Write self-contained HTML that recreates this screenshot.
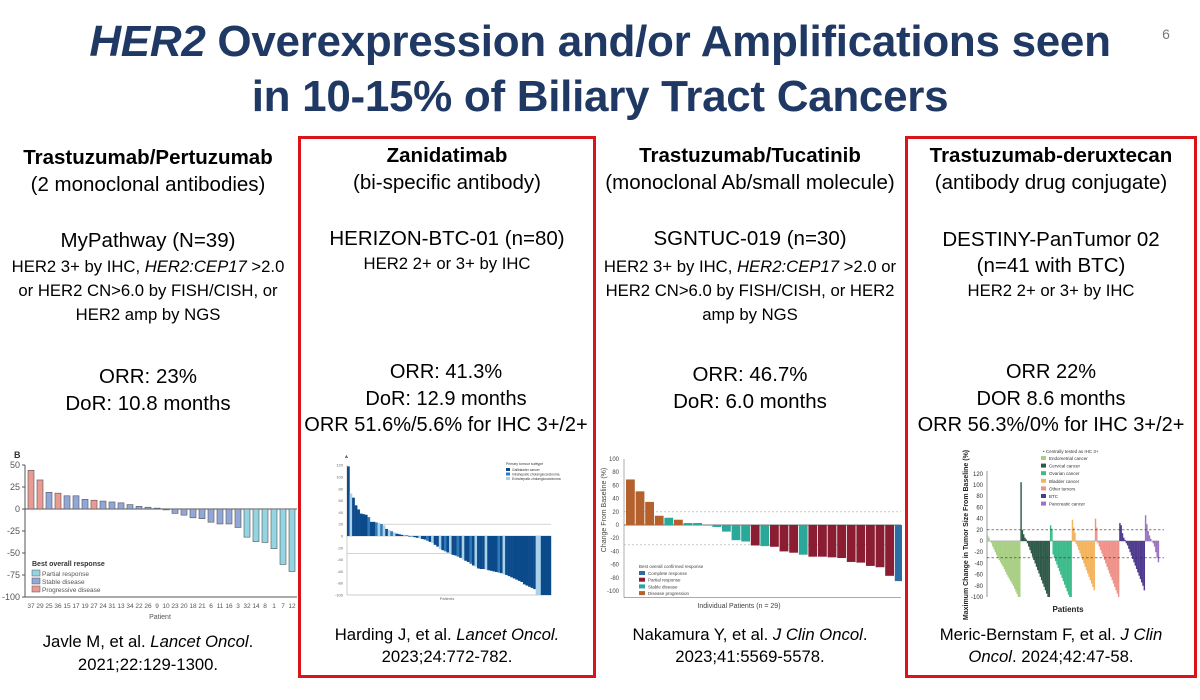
<!DOCTYPE html>
<html><head><meta charset="utf-8">
<style>
body{margin:0;background:#fff;}
#slide{position:relative;width:1200px;height:700px;overflow:hidden;background:#fff;font-family:"Liberation Sans",sans-serif;color:#000;}
.t{position:absolute;white-space:nowrap;transform:translateX(-50%);text-align:center;}
.title{position:absolute;left:0;width:1200px;text-align:center;color:#1f3864;font-weight:bold;font-size:44px;line-height:55px;letter-spacing:-0.3px;}
.box{position:absolute;border:3px solid #d9141b;box-sizing:border-box;}
.h{font-weight:bold;font-size:20.5px;}
.b{font-size:20.5px;}
.s{font-size:16.7px;}
.o{font-size:20.5px;}
.o2{font-size:20px;}
svg{position:absolute;}
svg text{font-family:"Liberation Sans",sans-serif;}
</style></head><body>
<div id="slide">
<div class="title" style="top:14px"><i>HER2</i> Overexpression and/or Amplifications seen<br>in 10-15% of Biliary Tract Cancers</div>
<div class="t" style="left:1166px;top:26px;font-size:14px;color:#777">6</div>
<div class="box" style="left:298px;top:136px;width:298px;height:542px"></div>
<div class="box" style="left:905px;top:136px;width:292px;height:542px"></div>

<!-- column 1 -->
<div>
<div class="t h" style="left:148px;top:146px">Trastuzumab/Pertuzumab</div>
<div class="t b" style="left:148px;top:173px">(2 monoclonal antibodies)</div>
<div class="t b" style="left:148px;top:229px">MyPathway (N=39)</div>
<div class="t s" style="left:148px;top:255px;line-height:24px">HER2 3+ by IHC, <i>HER2:CEP17</i> &gt;2.0<br>or HER2 CN&gt;6.0 by FISH/CISH, or<br>HER2 amp by NGS</div>
<div class="t o" style="left:148px;top:363px;line-height:27px">ORR: 23%<br>DoR: 10.8 months</div>
<div class="t s" style="left:148px;top:630px;line-height:23px">Javle M, et al. <i>Lancet Oncol</i>.<br>2021;22:129-1300.</div>
</div>
<!-- column 2 -->
<div>
<div class="t h" style="left:447px;top:144px">Zanidatimab</div>
<div class="t b" style="left:447px;top:171px">(bi-specific antibody)</div>
<div class="t b" style="left:447px;top:227px">HERIZON-BTC-01 (n=80)</div>
<div class="t s" style="left:447px;top:254px">HER2 2+ or 3+ by IHC</div>
<div class="t o2" style="left:446px;top:359px;line-height:26.5px">ORR: 41.3%<br>DoR: 12.9 months<br>ORR 51.6%/5.6% for IHC 3+/2+</div>
<div class="t s" style="left:447px;top:624px;line-height:22px">Harding J, et al. <i>Lancet Oncol.</i><br>2023;24:772-782.</div>
</div>
<!-- column 3 -->
<div>
<div class="t h" style="left:750px;top:144px">Trastuzumab/Tucatinib</div>
<div class="t b" style="left:750px;top:171px">(monoclonal Ab/small molecule)</div>
<div class="t b" style="left:750px;top:227px">SGNTUC-019 (n=30)</div>
<div class="t s" style="left:750px;top:255px;line-height:24px">HER2 3+ by IHC, <i>HER2:CEP17</i> &gt;2.0 or<br>HER2 CN&gt;6.0 by FISH/CISH, or HER2<br>amp by NGS</div>
<div class="t o" style="left:750px;top:361px;line-height:27px">ORR: 46.7%<br>DoR: 6.0 months</div>
<div class="t s" style="left:750px;top:624px;line-height:22px">Nakamura Y, et al. <i>J Clin Oncol</i>.<br>2023;41:5569-5578.</div>
</div>
<!-- column 4 -->
<div>
<div class="t h" style="left:1051px;top:144px">Trastuzumab-deruxtecan</div>
<div class="t b" style="left:1051px;top:171px">(antibody drug conjugate)</div>
<div class="t b" style="left:1051px;top:227px;line-height:26px">DESTINY-PanTumor 02<br>(n=41 with BTC)</div>
<div class="t s" style="left:1051px;top:281px">HER2 2+ or 3+ by IHC</div>
<div class="t o2" style="left:1051px;top:359px;line-height:26.5px">ORR 22%<br>DOR 8.6 months<br>ORR 56.3%/0% for IHC 3+/2+</div>
<div class="t s" style="left:1051px;top:624px;line-height:22px">Meric-Bernstam F, et al. <i>J Clin</i><br><i>Oncol</i>. 2024;42:47-58.</div>
</div>

<svg id="c1" style="left:0;top:440px" width="297" height="180"></svg>
<svg id="c2" style="left:301px;top:450px" width="280" height="160"></svg>
<svg id="c3" style="left:599px;top:440px" width="303" height="180"></svg>
<svg id="c4" style="left:908px;top:440px" width="286" height="180"></svg>
</div>
<script>
// ---- chart 1 data (MyPathway) ----
const c1Patients=["37","29","25","36","15","17","19","27","24","31","13","34","22","26","9","10","23","20","18","21","6","11","16","3","32","14","8","1","7","12","4","2","5"];
const c1Values=[44,33,19,18,15,15,11,10,9,8,7,5,3,2,1,-1,-5,-7,-10,-11,-15,-17,-17,-21,-32,-37,-38,-45,-63,-71,-72,-95,-100];
const c1Resp=["PD","PD","SD","PD","SD","SD","SD","PD","SD","SD","SD","SD","SD","SD","SD","SD","SD","SD","SD","SD","SD","SD","SD","SD","PR","PR","PR","PR","PR","PR","PR","PR","PR"];
const c1Ticks=[50,25,0,-25,-50,-75,-100];
// ---- chart 2 data (HERIZON) ----
const c2Values=[118,72,65,52,45,38,37,36,32,24,24,23,22,20,18,12,10,8,6,4,3,2,1,1,0,-1,-2,-3,-4,-5,-6,-8,-10,-12,-15,-18,-22,-24,-26,-28,-30,-32,-33,-35,-37,-40,-42,-44,-47,-50,-52,-55,-56,-56,-57,-58,-59,-60,-61,-62,-63,-65,-66,-68,-70,-72,-74,-76,-78,-82,-84,-86,-88,-90,-100,-100,-100,-100,-100,-100];
const c2Types=[0,2,0,0,0,0,0,0,1,0,0,1,2,1,2,0,2,1,2,0,0,0,1,0,0,1,0,0,2,0,0,1,0,2,0,0,2,0,1,0,2,0,0,1,0,2,0,0,1,0,2,0,0,0,2,0,0,0,0,1,0,2,0,0,0,0,0,0,0,0,0,0,0,0,2,2,0,0,0,0];
const c2Ticks=[120,100,80,60,40,20,0,-20,-40,-60,-80,-100];
// ---- chart 3 data (SGNTUC-019) ----
const c3Values=[69,51,35,14,11,8,3,3,0,-3,-10,-23,-25,-31,-32,-33,-40,-42,-45,-48,-48,-49,-50,-56,-57,-62,-64,-77,-85];
const c3Resp=["PD","PD","PD","PD","SD","PD","SD","SD","SD","SD","SD","SD","SD","PR","SD","PR","PR","PR","SD","PR","PR","PR","PR","PR","PR","PR","PR","PR","CR"];
const c3Ticks=[100,80,60,40,20,0,-20,-40,-60,-80,-100];
const c3Legend=["Complete response","Partial response","Stable disease","Disease progression"];
// ---- chart 4 data (DESTINY-PanTumor 02) ----
const c4Groups=["Endometrial cancer","Cervical cancer","Ovarian cancer","Bladder cancer","Other tumors","BTC","Pancreatic cancer"];
const c4Endo=[10,6,0,-4,-10,-15,-20,-25,-30,-34,-38,-42,-46,-50,-55,-60,-64,-68,-72,-76,-80,-85,-90,-95,-100,-100];
const c4Cerv=[105,20,12,6,3,-4,-10,-16,-22,-28,-34,-40,-46,-52,-58,-64,-70,-76,-82,-88,-94,-100,-100];
const c4Ovar=[28,22,-24,-30,-36,-42,-48,-54,-60,-66,-72,-78,-84,-90,-96,-100,-100];
const c4Blad=[38,24,15,-5,-10,-16,-22,-28,-34,-40,-46,-52,-58,-64,-70,-76,-82,-88];
const c4Other=[40,24,-4,-10,-16,-22,-28,-34,-40,-46,-52,-58,-64,-70,-76,-82,-88,-94,-100];
const c4Btc=[32,28,14,6,2,-4,-8,-14,-20,-26,-32,-38,-44,-50,-56,-62,-68,-74,-80,-88];
const c4Panc=[46,30,18,10,4,0,-4,-10,-20,-30,-38];
const c4Ticks=[120,100,80,60,40,20,0,-20,-40,-60,-80,-100];

const NS="http://www.w3.org/2000/svg";
function mk(svg,tag,attrs,txt){const e=document.createElementNS(NS,tag);for(const k in attrs)e.setAttribute(k,attrs[k]);if(txt!==undefined)e.textContent=txt;svg.appendChild(e);return e;}

// chart 1
(function(){
const s=document.getElementById('c1');
const y=v=>69-v*0.88, x0=25, step=9;
c1Ticks.forEach(t=>{
 const l=mk(s,'line',{x1:22,x2:25,y1:y(t),y2:y(t),stroke:'#555'});
 
 const tx=mk(s,'text',{x:20,y:y(t)+3,'font-size':9,'text-anchor':'end',fill:'#555'},t);
 
});
mk(s,'line',{x1:25,x2:25,y1:y(50),y2:y(-100),stroke:'#555'});
mk(s,'line',{x1:25,x2:297,y1:y(-100),y2:y(-100),stroke:'#555'});
mk(s,'line',{x1:25,x2:297,y1:y(0),y2:y(0),stroke:'#555'});
const col={PR:'#93d5e3',SD:'#93a6d8',PD:'#e99a92'};
c1Values.forEach((v,i)=>{
 const bx=x0+3+i*step, top=Math.min(y(v),y(0)), h=Math.abs(y(v)-y(0));
 const r=mk(s,'rect',{x:bx,y:top,width:6,height:Math.max(h,0.5),fill:col[c1Resp[i]],stroke:'#555','stroke-width':0.6});
 
 const tx=mk(s,'text',{x:bx+3,y:168,'font-size':6.5,'text-anchor':'middle',fill:'#555'},c1Patients[i]);
 
});
mk(s,'text',{x:14,y:18,'font-size':9,'font-weight':'bold',fill:'#333'},'B');
const xt=mk(s,'text',{x:160,y:179,'font-size':7,'text-anchor':'middle',fill:'#555'},'Patient');

const lg=[['Partial response','PR'],['Stable disease','SD'],['Progressive disease','PD']];
mk(s,'text',{x:32,y:126,'font-size':7,'font-weight':'bold',fill:'#333'},'Best overall response');
lg.forEach((g,i)=>{
 const r=mk(s,'rect',{x:32,y:130+i*8,width:8,height:6,fill:col[g[1]],stroke:'#555','stroke-width':0.5});
 
 const t=mk(s,'text',{x:42,y:136+i*8,'font-size':6.5,fill:'#555'},g[0]);
 
});
})();

// chart 2
(function(){
const s=document.getElementById('c2');
const y=v=>86-v*0.59, x0=46, w=204;
c2Ticks.forEach(t=>{
 const tx=mk(s,'text',{x:42,y:y(t)+1.5,'font-size':4,'text-anchor':'end',fill:'#666'},t);
 
});
mk(s,'line',{x1:x0,x2:x0,y1:y(120),y2:y(-100),stroke:'#999','stroke-width':0.5});
mk(s,'line',{x1:x0,x2:x0+w,y1:y(-100),y2:y(-100),stroke:'#999','stroke-width':0.5});
mk(s,'line',{x1:x0,x2:x0+w,y1:y(0),y2:y(0),stroke:'#999','stroke-width':0.5});
mk(s,'line',{x1:x0,x2:x0+w,y1:y(20),y2:y(20),stroke:'#bbb','stroke-width':0.6});
mk(s,'line',{x1:x0,x2:x0+w,y1:y(-30),y2:y(-30),stroke:'#bbb','stroke-width':0.6});
const col=['#0b4a8b','#2f7ab9','#a9d1ea'];
const bw=w/c2Values.length;
c2Values.forEach((v,i)=>{
 const top=Math.min(y(v),y(0)),h=Math.abs(y(v)-y(0));
 const r=mk(s,'rect',{x:x0+i*bw,y:top,width:bw+0.2,height:Math.max(h,0.6),fill:col[c2Types[i]]});
 
});
mk(s,'text',{x:44,y:8,'font-size':4,'font-weight':'bold'},'A');
const lab=['Primary tumour subtype','Gallbladder cancer','Intrahepatic cholangiocarcinoma','Extrahepatic cholangiocarcinoma'];
mk(s,'text',{x:205,y:15,'font-size':3.5,fill:'#333'},lab[0]);
[0,1,2].forEach(i=>{
 const r=mk(s,'rect',{x:205,y:18+i*4.5,width:4,height:3,fill:col[i]});
 
 const t=mk(s,'text',{x:211,y:21+i*4.5,'font-size':3.3,fill:'#333'},lab[i+1]);
 
});
const xt=mk(s,'text',{x:146,y:150,'font-size':4,'text-anchor':'middle',fill:'#666'},'Patients');

})();

// chart 3
(function(){
const s=document.getElementById('c3');
const y=v=>85-v*0.66, x0=25, w=277;
c3Ticks.forEach(t=>{
 const tx=mk(s,'text',{x:20,y:y(t)+2,'font-size':6,'text-anchor':'end',fill:'#444'},t);
 
});
mk(s,'line',{x1:x0,x2:x0,y1:y(100),y2:y(-110),stroke:'#777','stroke-width':0.6});
mk(s,'line',{x1:x0,x2:x0+w,y1:y(-110),y2:y(-110),stroke:'#777','stroke-width':0.6});
mk(s,'line',{x1:x0,x2:x0+w,y1:y(0),y2:y(0),stroke:'#444','stroke-width':0.8});
mk(s,'line',{x1:x0,x2:x0+w,y1:y(20),y2:y(20),stroke:'#aaa','stroke-width':0.6,'stroke-dasharray':'2,2'});
mk(s,'line',{x1:x0,x2:x0+w,y1:y(-30),y2:y(-30),stroke:'#aaa','stroke-width':0.6,'stroke-dasharray':'2,2'});
const col={CR:'#2e6ca6',PR:'#8b1d33',SD:'#2aa99b',PD:'#b4612d'};
const bw=9.6;
c3Values.forEach((v,i)=>{
 const top=Math.min(y(v),y(0)),h=Math.abs(y(v)-y(0));
 const r=mk(s,'rect',{x:x0+2+i*bw,y:top,width:bw-0.8,height:h,fill:col[c3Resp[i]]});
 
});
const yt=mk(s,'text',{x:0,y:0,'font-size':7,'text-anchor':'middle',fill:'#444',transform:'translate(7,70) rotate(-90)'},'Change From Baseline (%)');

const xt=mk(s,'text',{x:140,y:168,'font-size':7,'text-anchor':'middle',fill:'#444'},'Individual Patients (n = 29)');

mk(s,'text',{x:40,y:128,'font-size':4.5,fill:'#444'},'Best overall confirmed response');
const keys=['CR','PR','SD','PD'];
c3Legend.forEach((g,i)=>{
 const r=mk(s,'rect',{x:40,y:131+i*6.7,width:6,height:4,fill:col[keys[i]]});
 
 const t=mk(s,'text',{x:49,y:135+i*6.7,'font-size':4.5,fill:'#444'},g);
 
});
})();

// chart 4
(function(){
const s=document.getElementById('c4');
const y=v=>101-v*0.56, x0=79, w=172;
c4Ticks.forEach(t=>{
 const tx=mk(s,'text',{x:75,y:y(t)+2,'font-size':6,'text-anchor':'end',fill:'#333'},t);
 
});
mk(s,'line',{x1:x0,x2:x0,y1:y(125),y2:y(-100),stroke:'#555','stroke-width':0.6});
mk(s,'line',{x1:x0,x2:x0+w,y1:y(0),y2:y(0),stroke:'#666','stroke-width':0.6});
const cols=['#a8cf84','#2f5a4a','#3dbb8a','#f4b45e','#f0928a','#4f3a8e','#9b75c2'];
const groups=[c4Endo,c4Cerv,c4Ovar,c4Blad,c4Other,c4Btc,c4Panc];
const n=groups.reduce((a,g)=>a+g.length,0);
const bw=w/n;let k=0;
groups.forEach((g,gi)=>{
 g.forEach((v,i)=>{
  const top=Math.min(y(v),y(0)),h=Math.abs(y(v)-y(0));
  const r=mk(s,'rect',{x:x0+k*bw,y:top,width:bw+0.15,height:h,fill:cols[gi]});
  
  
  k++;
 });
});
mk(s,'line',{x1:x0,x2:x0+w+5,y1:y(20),y2:y(20),stroke:'#333','stroke-width':0.7,'stroke-dasharray':'2.5,2'});
mk(s,'line',{x1:x0,x2:x0+w+5,y1:y(-30),y2:y(-30),stroke:'#333','stroke-width':0.7,'stroke-dasharray':'2.5,2'});
const yt=mk(s,'text',{x:0,y:0,'font-size':7,'text-anchor':'middle',fill:'#222','font-weight':'bold',transform:'translate(60,95) rotate(-90)'},'Maximum Change in Tumor Size From Baseline (%)');

const xt=mk(s,'text',{x:160,y:172,'font-size':8,'text-anchor':'middle',fill:'#222','font-weight':'bold'},'Patients');

mk(s,'text',{x:135,y:13,'font-size':4.5,fill:'#333'},'•  Centrally tested as IHC 3+');
c4Groups.forEach((g,i)=>{
 const r=mk(s,'rect',{x:133,y:16+i*7.6,width:5,height:4,fill:cols[i]});
 
 const t=mk(s,'text',{x:141,y:20+i*7.6,'font-size':4.5,fill:'#333'},g);
 
});
})();
</script>
</body></html>
